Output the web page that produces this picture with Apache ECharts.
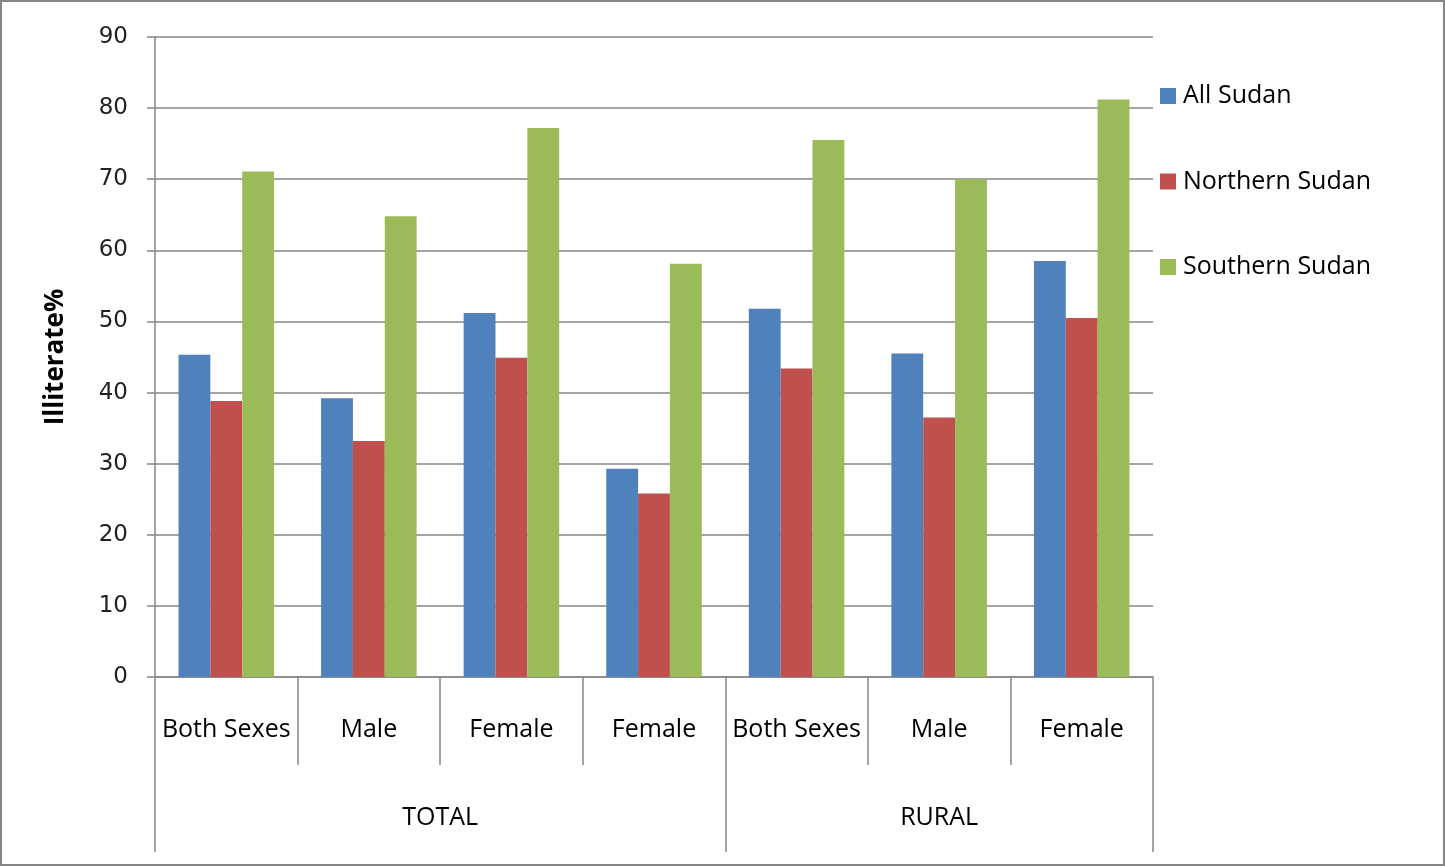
<!DOCTYPE html>
<html>
<head>
<meta charset="utf-8">
<script src="https://cdn.jsdelivr.net/npm/echarts@6/dist/echarts.min.js"></script>
<style>
  html, body { margin: 0; padding: 0; background: #fff; }
  #chart {
    width: 1445px;
    height: 866px;
    box-sizing: border-box;
    border: 2px solid #868686;
  }
</style>
</head>
<body>
<div id="chart"></div>
<script>
// categories and values
const categories = ["Both Sexes", "Male", "Female", "Female", "Both Sexes", "Male", "Female"];
const groupNames = ["TOTAL", "RURAL"];
const groupSpans = [4, 3];
const allSudan = [45.3, 39.2, 51.2, 29.3, 51.8, 45.5, 58.5];
const northernSudan = [38.8, 33.2, 44.9, 25.8, 43.4, 36.5, 50.5];
const southernSudan = [71.1, 64.8, 77.2, 58.1, 75.5, 70.0, 81.2];
const yTicks = [0, 10, 20, 30, 40, 50, 60, 70, 80, 90];

// group boundaries and centers on a 0..n scale
var bounds = [0];
var centers = [];
groupSpans.forEach(function (s) {
  var start = bounds[bounds.length - 1];
  centers.push(start + s / 2);
  bounds.push(start + s);
});

var lineColor = "#868686";
var chart = echarts.init(document.getElementById("chart"));

var option = {
  animation: false,
  color: ["#4F81BD", "#C0504D", "#9BBB59"],
  grid: { left: 153, top: 35, width: 998, height: 640 },
  legend: {
    orient: "vertical",
    left: 1153,
    top: 76,
    itemWidth: 16,
    itemHeight: 16,
    itemGap: 59.5,
    icon: "rect",
    textStyle: {
      fontFamily: "Open Sans",
      fontSize: 25,
      lineHeight: 26,
      color: "#000",
      padding: [0, 0, 0, 2],
    },
    data: ["All Sudan", "Northern Sudan", "Southern Sudan"],
  },
  xAxis: [
    {
      type: "category",
      data: categories,
      axisLine: { lineStyle: { color: lineColor, width: 1.5 } },
      axisTick: { show: true, interval: 0, length: 88, lineStyle: { color: lineColor, width: 1.5 } },
      axisLabel: {
        interval: 0,
        margin: 40,
        fontFamily: "Open Sans",
        fontSize: 25,
        color: "#000",
      },
    },
    {
      type: "value",
      min: 0,
      max: categories.length,
      position: "bottom",
      axisLine: { show: false },
      splitLine: { show: false },
      axisTick: {
        show: true,
        customValues: bounds,
        length: 175,
        lineStyle: { color: lineColor, width: 1.5 },
      },
      axisLabel: {
        customValues: centers,
        margin: 128,
        fontFamily: "Open Sans",
        fontSize: 25,
        color: "#000",
        formatter: function (v) {
          var i = centers.indexOf(v);
          return i >= 0 ? groupNames[i] : "";
        },
      },
    },
  ],
  yAxis: {
    type: "value",
    min: yTicks[0],
    max: yTicks[yTicks.length - 1],
    interval: 10,
    name: "Illiterate%",
    nameLocation: "middle",
    nameGap: 86,
    nameTextStyle: {
      fontFamily: "Open Sans",
      fontWeight: "bold",
      fontSize: 26,
      color: "#000",
    },
    axisLine: { show: true, lineStyle: { color: lineColor, width: 1.5 } },
    axisTick: { show: true, length: 8, lineStyle: { color: lineColor, width: 1.5 } },
    axisLabel: {
      margin: 27,
      fontFamily: "DejaVu Sans",
      fontSize: 23,
      color: "#222",
    },
    splitLine: { show: true, lineStyle: { color: lineColor, width: 1.5 } },
  },
  series: [
    { name: "All Sudan", type: "bar", data: allSudan, barGap: "0%", barCategoryGap: "33%" },
    { name: "Northern Sudan", type: "bar", data: northernSudan, barGap: "0%", barCategoryGap: "33%" },
    { name: "Southern Sudan", type: "bar", data: southernSudan, barGap: "0%", barCategoryGap: "33%" },
  ],
};

chart.setOption(option);
</script>
</body>
</html>
